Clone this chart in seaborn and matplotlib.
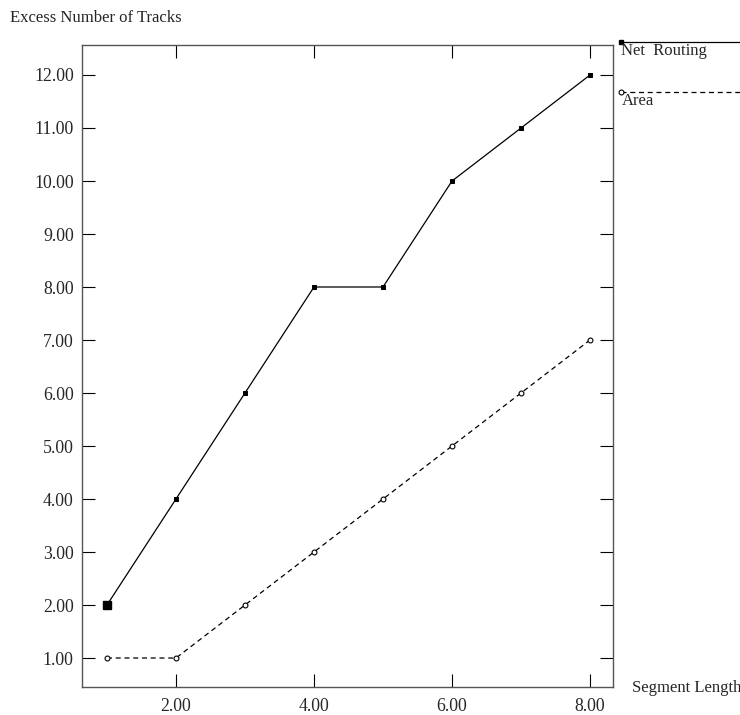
import matplotlib
matplotlib.use("Agg")
import matplotlib.pyplot as plt
from matplotlib.lines import Line2D
import seaborn as sns
import pandas as pd

segment_length = [1, 2, 3, 4, 5, 6, 7, 8]
net_routing = [2, 4, 6, 8, 8, 10, 11, 12]
area = [1, 1, 2, 3, 4, 5, 6, 7]
x_ticks = [2, 4, 6, 8]
y_ticks = [1, 2, 3, 4, 5, 6, 7, 8, 9, 10, 11, 12]

sns.set_style("white")
plt.rcParams['font.family'] = ['Liberation Serif', 'DejaVu Serif']
plt.rcParams['font.size'] = 12

df = pd.DataFrame({"x": segment_length, "net": net_routing, "area": area})

fig = plt.figure(figsize=(7.4, 7.15), dpi=100)
ax = fig.add_axes([82/740, 1-687/715, (613-82)/740, (687-45)/715])

sns.lineplot(data=df, x="x", y="net", ax=ax, color="black", lw=0.9,
             marker="s", markersize=3.5, markeredgecolor="black", markerfacecolor="black")
sns.lineplot(data=df, x="x", y="area", ax=ax, color="black", lw=0.9,
             linestyle=(0, (4, 3)), marker="o", markersize=3.5,
             markeredgecolor="black", markerfacecolor="white", markeredgewidth=0.8)
ax.plot(segment_length[:1], net_routing[:1], marker="s", markersize=5.5,
        color="black", linestyle="none")

ax.set_xlim(0.638, 8.333)
ax.set_ylim(0.453, 12.566)
ax.set_xticks(x_ticks)
ax.set_xticklabels([f"{v:.2f}" for v in x_ticks])
ax.set_yticks(y_ticks)
ax.set_yticklabels([f"{v:.2f}" for v in y_ticks])
ax.tick_params(direction="in", length=9.5, width=0.8, color="black",
               top=True, right=True, bottom=True, left=True, labelsize=12.8)
ax.tick_params(axis="y", pad=6)
ax.tick_params(axis="x", pad=8)
for s in ax.spines.values():
    s.set_color("#555555")
    s.set_linewidth(1.0)
ax.set_xlabel("")
ax.set_ylabel("")

fig.text(10/740, 1-18/715, "Excess Number of Tracks", ha="left", va="center", fontsize=12)
fig.text(632/740, 1-688/715, "Segment Length", ha="left", va="center", fontsize=12)

# legend outside on the right
fig.add_artist(Line2D([620/740, 745/740], [1-42/715, 1-42/715], transform=fig.transFigure,
                      color="black", lw=0.9))
fig.add_artist(Line2D([621/740], [1-42/715], transform=fig.transFigure, color="black",
                      marker="s", markersize=3.5, linestyle="none"))
fig.text(621/740, 1-51/715, "Net  Routing", ha="left", va="center", fontsize=12)
fig.add_artist(Line2D([621/740, 745/740], [1-92/715, 1-92/715], transform=fig.transFigure,
                      color="black", lw=0.9, linestyle=(0, (4, 3))))
fig.add_artist(Line2D([621/740], [1-92/715], transform=fig.transFigure, color="black",
                      marker="o", markersize=3.5, markerfacecolor="white",
                      markeredgewidth=0.8, linestyle="none"))
fig.text(622/740, 1-101/715, "Area", ha="left", va="center", fontsize=12)

fig.savefig("out.png", dpi=100)
